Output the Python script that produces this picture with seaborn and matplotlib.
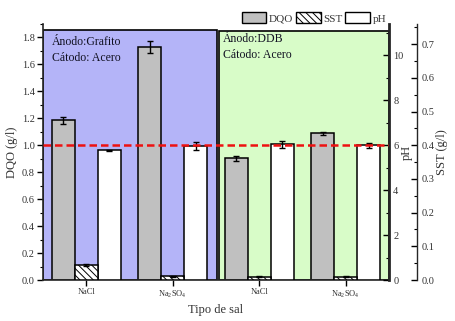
from __future__ import annotations

import matplotlib.pyplot as plt
import numpy as np
import pandas as pd
import seaborn as sns
from matplotlib.patches import Patch, Rectangle
from matplotlib.ticker import MultipleLocator

# Data
groups = ["NaCl", "Na$_2$SO$_4$", "NaCl", "Na$_2$SO$_4$"]
dqo = [1.185, 1.732, 0.903, 1.089]
dqo_err = [0.027, 0.045, 0.019, 0.012]
sst = [0.044, 0.011, 0.010, 0.010]
sst_err = [0.003, 0.001, 0.001, 0.001]
ph = [5.77, 5.98, 6.04, 6.00]
ph_err = [0.04, 0.17, 0.15, 0.10]
dqo_limit = 1.0

TEXT = "#333333"
GRAY = "#c0c0c0"
BLUE = "#b4b4f8"
GREEN = "#d8fcc8"
BAR_W = 0.265
HATCH = "\\\\\\\\\\"


def set_style() -> None:
    sns.set_theme(style="ticks")
    plt.rcParams.update({
        "font.family": ["Liberation Serif", "DejaVu Serif"],
        "mathtext.fontset": "custom",
        "mathtext.rm": "Liberation Serif",
        "font.size": 8,
        "axes.linewidth": 1.2,
        "hatch.linewidth": 0.7,
        "xtick.color": "black",
        "ytick.color": "black",
        "xtick.labelcolor": TEXT,
        "ytick.labelcolor": TEXT,
        "axes.labelcolor": TEXT,
    })


def draw_bars(ax, values, errors, offset, **style) -> None:
    pos = np.arange(len(values)) + offset
    df = pd.DataFrame({"x": pos, "y": values})
    sns.barplot(data=df, x="x", y="y", native_scale=True, width=BAR_W,
                errorbar=None, saturation=1, edgecolor="black",
                linewidth=1.1, ax=ax, zorder=2, **style)
    ax.errorbar(pos, values, yerr=errors, fmt="none", ecolor="black",
                elinewidth=1.0, capsize=2.2, capthick=1.0, zorder=3)


def style_right(a, major, minor, label, labelpad) -> None:
    a.yaxis.set_major_locator(MultipleLocator(major))
    a.yaxis.set_minor_locator(MultipleLocator(minor))
    a.tick_params(axis="y", which="major", direction="in", length=4,
                  width=1.0, labelsize=7.5, pad=3)
    a.tick_params(axis="y", which="minor", direction="in", length=2.5,
                  width=0.8)
    a.set_ylabel(label, fontsize=9, labelpad=labelpad)
    a.set_xlabel("")
    for side in ("left", "bottom", "top"):
        a.spines[side].set_visible(False)


def build_figure() -> plt.Figure:
    fig = plt.figure(figsize=(4.55, 3.21), dpi=100)
    ax = fig.add_axes([43 / 455, 41 / 321, 346 / 455, 256 / 321])
    ax2 = ax.twinx()
    ax3 = ax.twinx()

    # electrode background panels
    ax.add_patch(Rectangle((-0.5, 0), 2.013, 1.856, facecolor=BLUE,
                           edgecolor="black", linewidth=1.2, zorder=0))
    ax.add_patch(Rectangle((1.532, 0), 1.968, 1.845, facecolor=GREEN,
                           edgecolor="black", linewidth=1.2, zorder=0))

    draw_bars(ax, dqo, dqo_err, -BAR_W, color=GRAY)
    draw_bars(ax3, sst, sst_err, 0.0, color="white", hatch=HATCH)
    draw_bars(ax2, ph, ph_err, BAR_W, color="white")

    ax3.plot([-0.5, 3.5], [dqo_limit, dqo_limit], transform=ax.transData,
             color="#ee1111", linestyle=(0, (3, 1.6)), linewidth=1.8, zorder=5)

    for a in (ax, ax2, ax3):
        a.set_xlim(-0.5, 3.5)
        a.patch.set_visible(False)
    ax.set_ylim(0, 1.9)
    ax2.set_ylim(0, 11.4)
    ax3.set_ylim(0, 0.76)

    ax.set_xticks(range(len(groups)))
    ax.set_xticklabels(groups, fontsize=6)
    ax.tick_params(axis="x", direction="out", length=4, width=1.0, pad=2)
    ax.set_xlabel("Tipo de sal", fontsize=9)
    ax.xaxis.set_label_coords(0.5, -0.095)

    ax.yaxis.set_major_locator(MultipleLocator(0.2))
    ax.yaxis.set_minor_locator(MultipleLocator(0.1))
    ax.tick_params(axis="y", which="major", direction="out", length=4,
                   width=1.0, labelsize=7.5, pad=2)
    ax.tick_params(axis="y", which="minor", direction="out", length=2.5,
                   width=0.8)
    ax.set_ylabel("DQO (g/l)", fontsize=9, labelpad=3)
    ax.spines["right"].set_visible(False)
    ax.spines["top"].set_visible(False)

    style_right(ax2, 2, 1, "pH", -1.5)
    ax2.spines["right"].set_linewidth(2.0)

    style_right(ax3, 0.1, 0.05, "SST (g/l)", 1)
    ax3.spines["right"].set_position(("outward", 20.2))
    ax3.spines["right"].set_linewidth(1.0)

    ax3.text(0.026, 0.955, "Ánodo:Grafito\nCátodo: Acero",
             transform=ax.transAxes, fontsize=8.5, color="#111122",
             va="top", linespacing=1.45, zorder=6)
    ax3.text(0.52, 0.965, "Ánodo:DDB\nCátodo: Acero",
             transform=ax.transAxes, fontsize=8.5, color="#111122",
             va="top", linespacing=1.45, zorder=6)

    handles = [
        Patch(facecolor=GRAY, edgecolor="black", linewidth=1.0, label="DQO"),
        Patch(facecolor="white", edgecolor="black", linewidth=1.0,
              hatch=HATCH, label="SST"),
        Patch(facecolor="white", edgecolor="black", linewidth=1.0, label="pH"),
    ]
    fig.legend(handles=handles, loc="center", ncol=3, frameon=False,
               bbox_to_anchor=(314 / 455, 1 - 18 / 321), fontsize=8,
               handlelength=2.2, handleheight=1.1, handletextpad=0.25,
               columnspacing=0.25, labelcolor=TEXT)
    return fig


def main() -> None:
    set_style()
    fig = build_figure()
    fig.savefig("out.png", dpi=100, facecolor="white")


if __name__ == "__main__":
    main()
